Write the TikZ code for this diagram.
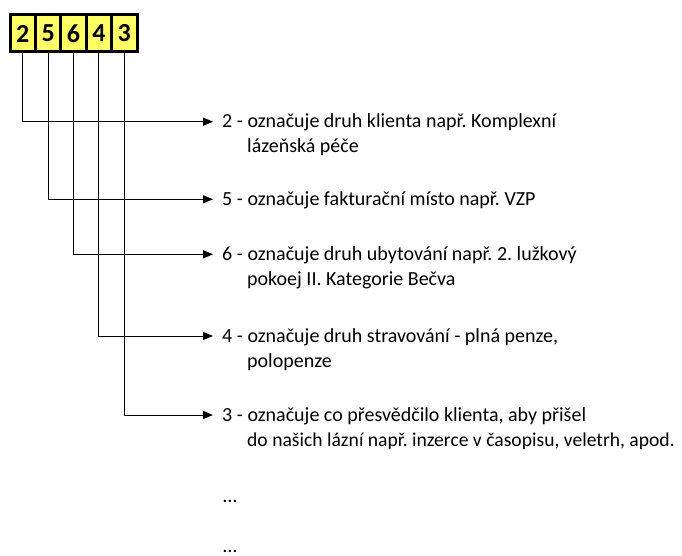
\documentclass[tikz,border=0pt]{standalone}
\usepackage{fontspec}
\setmainfont{Carlito}
\usetikzlibrary{arrows.meta}
\definecolor{cellyellow}{RGB}{255,255,102}
\frenchspacing
\begin{document}
\begin{tikzpicture}[x=1pt,y=-1pt,
  cell/.style={draw=black, line width=3pt, fill=cellyellow,
    minimum width=25.4pt, minimum height=37pt, inner sep=0pt,
    font=\fontsize{26}{30}\selectfont\bfseries},
  item/.style={anchor=west, inner xsep=9pt, inner ysep=0pt,
    text height=15pt, text depth=2.4pt,
    font=\fontsize{20}{24}\selectfont},
  cont/.style={anchor=base west, inner sep=0pt,
    font=\fontsize{20}{24}\selectfont},
  link/.style={draw=black, line width=1pt,
    -{Triangle[length=10pt,width=8pt]}}]
\useasboundingbox (0,0) rectangle (682,556);

% code cells
\node[cell] (b1) at (22.7,33.5) {2};
\node[cell] (b2) at (48.1,33.5) {5};
\node[cell] (b3) at (73.5,33.5) {6};
\node[cell] (b4) at (98.9,33.5) {4};
\node[cell] (b5) at (124.3,33.5) {3};

% descriptions
\node[item] (t1) at (213,121.7) {2 - označuje druh klienta např. Komplexní};
\node[cont] (t1b) at ([xshift=34pt,yshift=-25pt]t1.base west) {lázeňská péče};
\node[item] (t2) at (213,199.3) {5 - označuje fakturační místo např. VZP};
\node[item] (t3) at (213,254.3) {6 - označuje druh ubytování např. 2. lužkový};
\node[cont] (t3b) at ([xshift=34pt,yshift=-25pt]t3.base west) {pokoej II. Kategorie Bečva};
\node[item] (t4) at (213,336) {4 - označuje druh stravování - plná penze,};
\node[cont] (t4b) at ([xshift=34pt,yshift=-25pt]t4.base west) {polopenze};
\node[item] (t5) at (213,415) {3 - označuje co přesvědčilo klienta, aby přišel};
\node[cont, font=\fontsize{19.6}{24}\selectfont] (t5b) at ([xshift=34pt,yshift=-25pt]t5.base west) {do našich lázní např. inzerce v časopisu, veletrh, apod.};

\node[cont] (d1) at (223,502.5) {…};
\node[cont] (d2) at (223,552.5) {…};

% connectors
\draw[link] (b1.south) |- (t1.west);
\draw[link] (b2.south) |- (t2.west);
\draw[link] (b3.south) |- (t3.west);
\draw[link] (b4.south) |- (t4.west);
\draw[link] (b5.south) |- (t5.west);
\end{tikzpicture}
\end{document}
